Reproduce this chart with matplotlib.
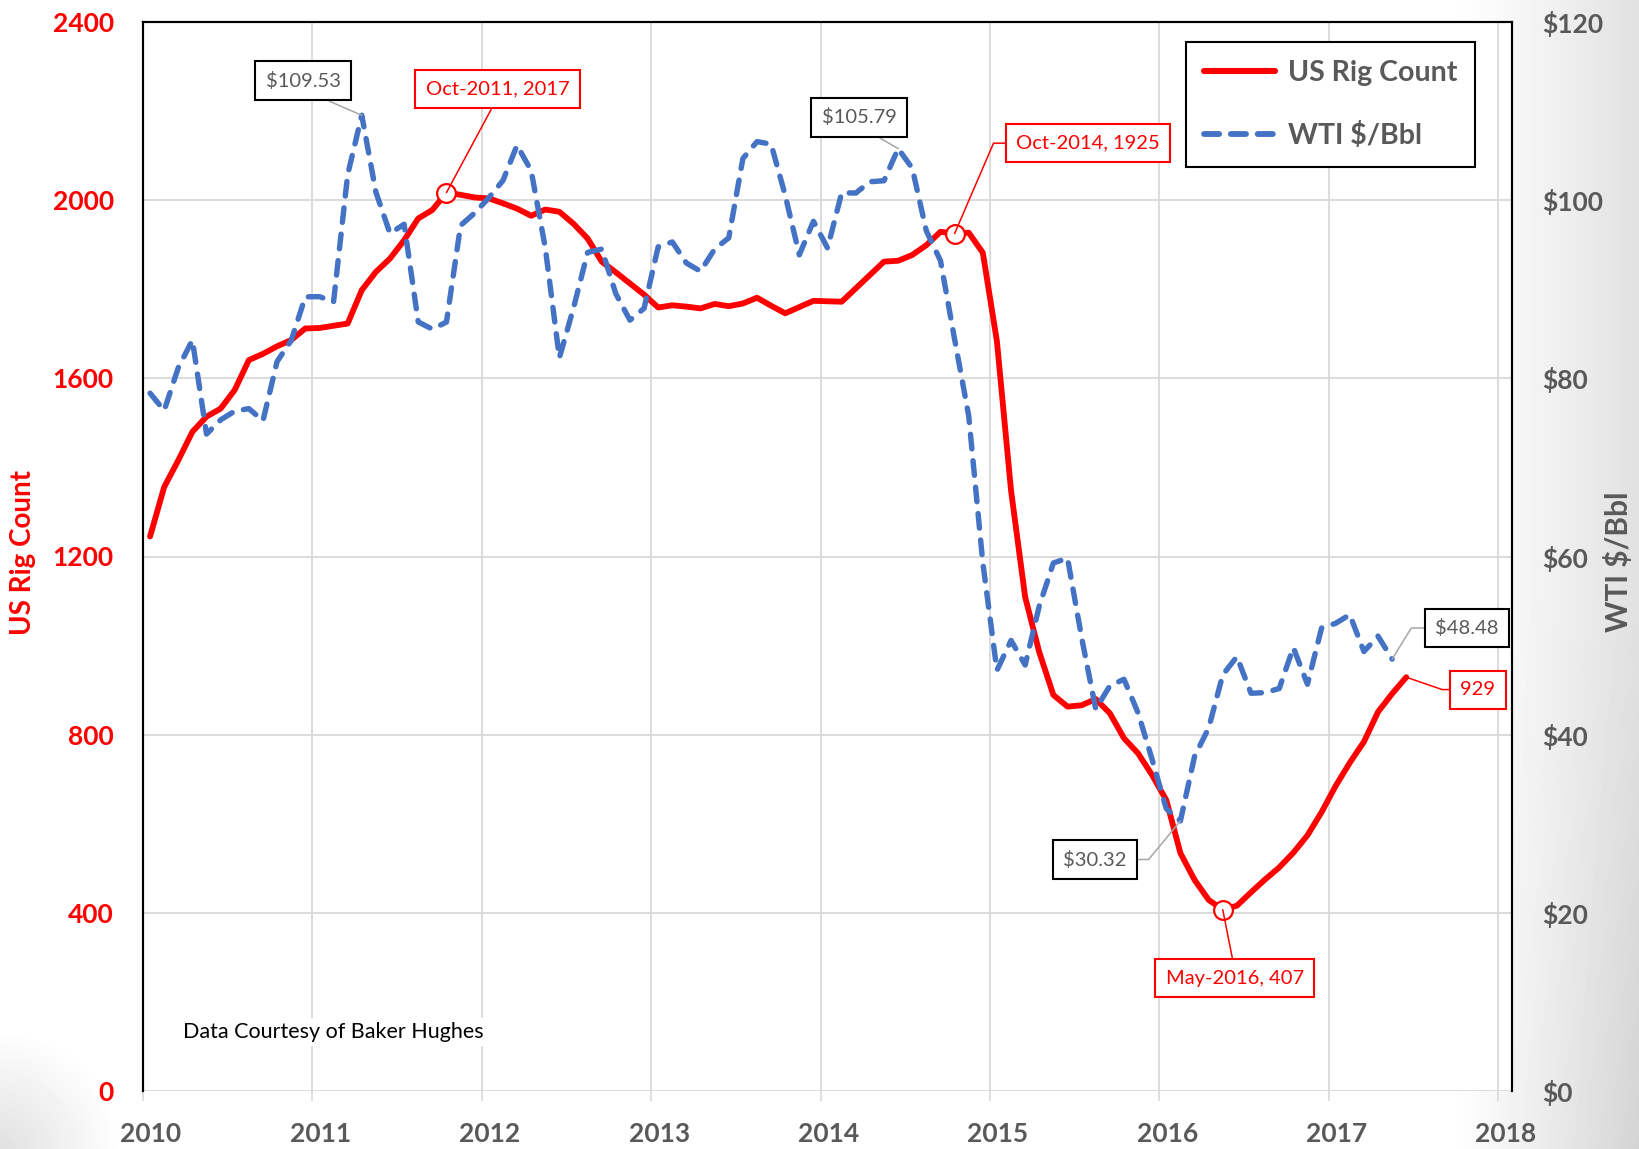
import numpy as np
import matplotlib
matplotlib.use("Agg")
import matplotlib.pyplot as plt
from matplotlib.lines import Line2D
from matplotlib.ticker import FuncFormatter
from matplotlib.transforms import ScaledTranslation

plt.rcParams['font.family'] = ['Lato', 'DejaVu Sans']

# ---------------- data (monthly, starting Jan 2010) ----------------
START_YEAR = 2010
month_names = ['Jan', 'Feb', 'Mar', 'Apr', 'May', 'Jun',
               'Jul', 'Aug', 'Sep', 'Oct', 'Nov', 'Dec']

# US rig count, Jan 2010 - Jun 2017
rig_count = [1245, 1356, 1416, 1480, 1514, 1532, 1574, 1641, 1655, 1672, 1686, 1712,
             1713, 1718, 1723, 1798, 1839, 1869, 1910, 1959, 1978, 2017, 2012, 2006,
             2004, 1993, 1981, 1965, 1979, 1974, 1947, 1914, 1862, 1838, 1813, 1788,
             1759, 1764, 1761, 1757, 1767, 1762, 1768, 1781, 1763, 1746, 1760, 1774,
             1773, 1772, 1802, 1832, 1862, 1864, 1877, 1899, 1929, 1925, 1927, 1882,
             1683, 1348, 1109, 985, 889, 863, 866, 880, 848, 792, 758, 709,
             653, 534, 474, 429, 407, 416, 446, 475, 502, 535, 574, 626,
             685, 737, 784, 851, 892, 929]

# WTI $/Bbl, Jan 2010 - May 2017
wti = [78.33, 76.39, 81.20, 84.29, 73.74, 75.34, 76.32, 76.60, 75.24, 81.89, 84.25, 89.15,
       89.17, 88.58, 102.86, 109.53, 100.90, 96.26, 97.30, 86.33, 85.52, 86.32, 97.16, 98.56,
       100.27, 102.20, 106.16, 103.32, 94.66, 82.30, 87.90, 94.13, 94.51, 89.49, 86.53, 87.86,
       94.76, 95.31, 92.94, 92.02, 94.51, 95.77, 104.67, 106.57, 106.29, 100.54, 93.86, 97.63,
       94.62, 100.82, 100.80, 102.07, 102.18, 105.79, 103.59, 96.54, 93.21, 84.40, 75.79, 59.29,
       47.22, 50.58, 47.82, 54.45, 59.27, 59.82, 50.90, 42.87, 45.48, 46.22, 42.44, 37.19,
       31.68, 30.32, 37.55, 40.75, 46.71, 48.76, 44.65, 44.72, 45.18, 49.78, 45.66, 51.97,
       52.50, 53.47, 49.33, 51.06, 48.48]

year_ticks = list(range(2010, 2019))
rig_ticks = list(range(0, 2401, 400))
wti_ticks = list(range(0, 121, 20))

# highlighted months (index from Jan 2010)
rig_highlight = [21, 57, 76]        # Oct-2011, Oct-2014, May-2016
rig_last = 89                       # Jun-2017
wti_highlight = [15, 53, 73, 88]    # Apr-2011, Jun-2014, Feb-2016, May-2017

# ---------------- colours ----------------
RED = '#FF0000'
BLUE = '#4472C4'
GRAY_TXT = '#595959'
GRID = '#D9D9D9'


def xpos(i):
    return START_YEAR + (np.asarray(i) + 0.5) / 12.0


def mlabel(i):
    return f"{month_names[i % 12]}-{START_YEAR + i // 12}"


x_rig = xpos(np.arange(len(rig_count)))
x_wti = xpos(np.arange(len(wti)))

W, H = 1639, 1149
fig = plt.figure(figsize=(W / 100, H / 100), dpi=100)
fig.patch.set_facecolor('white')

# slide-like background shading
bg = fig.add_axes([0, 0, 1, 1], zorder=-1)
Xg, Yg = np.meshgrid(np.arange(W), np.arange(H))
r = np.clip((Xg - 1450) / 189.0, 0, 1)
g = 1 - 0.12 * r ** 1.2 - 0.05 * r * np.clip((Yg - 600) / 549.0, 0, 1)
corner = np.clip(1 - np.hypot(Xg, H - Yg) / 120.0, 0, 1)
g = g - 0.12 * corner
bg.imshow(g, cmap='gray', vmin=0, vmax=1, aspect='auto', extent=(0, 1, 0, 1),
          interpolation='bilinear')
bg.axis('off')

ax = fig.add_axes([143 / W, 1 - 1091 / H, (1512 - 143) / W, (1091 - 22) / H])
ax2 = ax.twinx()

# main series
ax.plot(x_rig, rig_count, color=RED, lw=4.2, solid_joinstyle='round',
        solid_capstyle='round', zorder=3)
ax2.plot(x_wti, wti, color=BLUE, lw=3.9, dashes=(2.7, 2.2),
         dash_capstyle='round', dash_joinstyle='round', zorder=3)

ax.set_xlim(2010, 2018 + 14 / 169.4)
ax.set_ylim(0, 2400)
ax2.set_ylim(0, 120)

ax.set_xticks(year_ticks)
ax.set_xticklabels([str(y) for y in year_ticks])
ax.set_yticks(rig_ticks)
ax.set_yticklabels([str(v) for v in rig_ticks])
ax2.set_yticks(wti_ticks)
ax2.yaxis.set_major_formatter(FuncFormatter(lambda v, p: f"${v:.0f}"))

ax.grid(True, color=GRID, lw=1.3)
ax.set_axisbelow(True)

ax.tick_params(axis='y', length=0, pad=21, labelcolor=RED, labelsize=19)
ax.tick_params(axis='x', length=7, width=1.2, color=GRID, pad=15,
               labelcolor=GRAY_TXT, labelsize=19)
ax2.tick_params(axis='y', length=0, pad=22, labelcolor=GRAY_TXT, labelsize=19)
for lab in ax.get_xticklabels() + ax.get_yticklabels() + ax2.get_yticklabels():
    lab.set_fontweight('bold')
shift = ScaledTranslation(8 / 100, 0, fig.dpi_scale_trans)
for lab in ax.get_xticklabels():
    lab.set_transform(lab.get_transform() + shift)

for a in (ax, ax2):
    a.spines['bottom'].set_visible(False)
    for s in ('left', 'top', 'right'):
        a.spines[s].set_color('black')
        a.spines[s].set_linewidth(1.5)

# axis titles
fig.text(23 / W, 1 - 553 / H, 'US Rig Count', rotation=90, ha='center',
         va='center', color=RED, fontsize=20, fontweight='bold')
fig.text(1618 / W, 1 - 562 / H, 'WTI $/Bbl', rotation=90, ha='center',
         va='center', color=GRAY_TXT, fontsize=21.5, fontweight='bold')

# highlighted rig points
ax.plot(x_rig[rig_highlight], np.array(rig_count)[rig_highlight], 'o', ms=13.5,
        mfc='white', mec=RED, mew=1.6, zorder=4)

FS_NOTE = 14.5


def box(ec):
    return dict(boxstyle='square,pad=0.52', fc='white', ec=ec, lw=1.5)


# rig count callouts: (index, offset pts, relpos, connectionstyle)
rig_callouts = [
    (21, (36.7, 74.4), (0.5, 0.0), 'arc3'),
    (57, (96.0, 65.1), (0.0, 0.5), 'angle,angleA=0,angleB=66.7,rad=0'),
    (76, (8.5, -49.2), (0.5, 1.0), 'arc3'),
]
for i, off, rp, cs in rig_callouts:
    ax.annotate(f"{mlabel(i)}, {rig_count[i]}", xy=(x_rig[i], rig_count[i]),
                xytext=off, textcoords='offset points', ha='center', va='center',
                fontsize=FS_NOTE, color=RED, bbox=box(RED), zorder=5,
                arrowprops=dict(arrowstyle='-', color=RED, lw=1.1, shrinkA=0,
                                shrinkB=0, relpos=rp, connectionstyle=cs))
ax.annotate(f"{rig_count[rig_last]}", xy=(x_rig[rig_last], rig_count[rig_last]),
            xytext=(51.5, -8.9), textcoords='offset points', ha='center', va='center',
            fontsize=FS_NOTE, color=RED, bbox=box(RED), zorder=5,
            arrowprops=dict(arrowstyle='-', color=RED, lw=1.1, shrinkA=0, shrinkB=0,
                            relpos=(0.0, 0.5),
                            connectionstyle='angle,angleA=0,angleB=-19,rad=0'))

# WTI callouts
wti_callouts = [
    (15, (-42.0, 24.7), (0.5, 0.0), 'arc3'),
    (53, (-27.9, 22.7), (0.5, 0.0), 'arc3'),
    (73, (-61.6, -27.8), (1.0, 0.5), 'angle,angleA=0,angleB=50.5,rad=0'),
    (88, (53.8, 22.4), (0.0, 0.5), 'angle,angleA=0,angleB=58.4,rad=0'),
]
for i, off, rp, cs in wti_callouts:
    ax2.annotate(f"${wti[i]:.2f}", xy=(x_wti[i], wti[i]), xytext=off,
                 textcoords='offset points', ha='center', va='center', fontsize=FS_NOTE,
                 color=GRAY_TXT, bbox=box('black'), zorder=5,
                 arrowprops=dict(arrowstyle='-', color='#A6A6A6', lw=1.1, shrinkA=0,
                                 shrinkB=0, relpos=rp, connectionstyle=cs))

# source note
ax.text((183 - 143) / 1369, (1091 - 1031.7) / 1069, 'Data Courtesy of Baker Hughes',
        transform=ax.transAxes, ha='left', va='center', fontsize=15.5, color='black',
        bbox=dict(fc='white', ec='none', pad=3), zorder=2)

# legend
handles = [Line2D([], [], color=RED, lw=4.4, solid_capstyle='round'),
           Line2D([], [], color=BLUE, lw=4.2, dashes=(2.6, 2.0), dash_capstyle='round')]
leg = ax2.legend(handles, ['US Rig Count', 'WTI $/Bbl'], loc='upper left',
                 bbox_to_anchor=((1186 - 143) / 1369, 1 - (42 - 22) / 1069),
                 borderaxespad=0, frameon=True, fancybox=False, edgecolor='black',
                 framealpha=1, facecolor='white',
                 prop=dict(weight='bold', size=20.5), labelcolor=GRAY_TXT,
                 handlelength=2.5, handletextpad=0.45, borderpad=0.63,
                 labelspacing=1.28)
leg.get_frame().set_linewidth(1.5)
leg.set_zorder(10)

fig.savefig('out.png', dpi=100)
